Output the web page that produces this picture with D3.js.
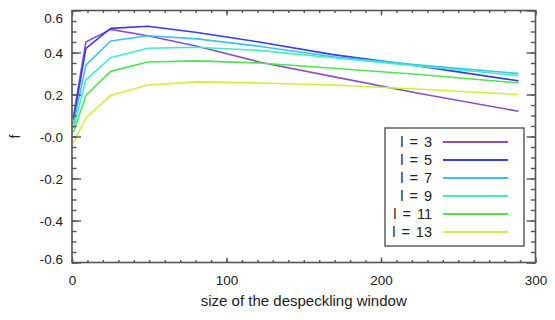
<!DOCTYPE html>
<html>
<head>
<meta charset="utf-8">
<script src="https://cdn.jsdelivr.net/npm/d3@7"></script>
<style>
  body { margin: 0; background: #fff; }
  text { font-family: "Liberation Sans", Arial, Helvetica, sans-serif; fill: #222; }
</style>
</head>
<body>
<svg id="chart"></svg>
<script>
// window sizes (odd squares) and the f values
const windowSizes = [1, 9, 25, 49, 81, 121, 169, 225, 289];
const l3  = [0.10, 0.45, 0.51, 0.48, 0.43, 0.355, 0.285, 0.205, 0.12];
const l5  = [0.08, 0.42, 0.515, 0.525, 0.495, 0.45, 0.39, 0.335, 0.265];
const l7  = [0.06, 0.34, 0.455, 0.48, 0.465, 0.43, 0.38, 0.34, 0.30];
const l9  = [0.04, 0.27, 0.375, 0.42, 0.425, 0.41, 0.375, 0.335, 0.29];
const l11 = [0.02, 0.195, 0.31, 0.355, 0.36, 0.35, 0.325, 0.295, 0.255];
const l13 = [-0.03, 0.09, 0.195, 0.245, 0.26, 0.255, 0.245, 0.225, 0.20];

const seriesNames = ["l = 3", "l = 5", "l = 7", "l = 9", "l = 11", "l = 13"];
const seriesValues = [l3, l5, l7, l9, l11, l13];
const seriesColors = ["#8a4fc8", "#3a3aee", "#3cc0f4", "#3cefc4", "#4ce64c", "#cdf03c"];

const xTicks = [0, 100, 200, 300];
const yTicks = [-0.6, -0.4, -0.2, 0, 0.2, 0.4, 0.6];
const yTickLabels = ["-0.6", "-0.4", "-0.2", "-0.0", "0.2", "0.4", "0.6"];

const width = 555, height = 320;
const margin = { top: 10.5, right: 19.5, bottom: 57.5, left: 72 };
const plotW = width - margin.left - margin.right;
const plotH = height - margin.top - margin.bottom;

const svg = d3.select("#chart").attr("width", width).attr("height", height);
const g = svg.append("g").attr("transform", `translate(${margin.left},${margin.top})`);

const x = d3.scaleLinear().domain([0, 300]).range([0, plotW]);
const y = d3.scaleLinear().domain([-0.6, 0.6]).range([plotH, 0]);

const axisColor = "#555";

// lines
const line = d3.line()
  .x((d, i) => x(windowSizes[i]))
  .y(d => y(d));

g.selectAll("path.series")
  .data(seriesValues)
  .join("path")
  .attr("class", "series")
  .attr("fill", "none")
  .attr("stroke", (d, i) => seriesColors[i])
  .attr("stroke-width", 1.6)
  .attr("stroke-linejoin", "round")
  .attr("d", line);

// axes: major + minor ticks pointing inward on all four sides
function styleAxis(sel) {
  sel.select(".domain").remove();
  sel.selectAll(".tick line").attr("stroke", axisColor).attr("stroke-width", 1.4);
  sel.selectAll("text").attr("font-size", 13.5).attr("fill", "#222");
}

const xMinor = d3.range(0, 301, 10);
const yMinor = d3.range(-0.6, 0.6001, 0.05);

g.append("g").attr("transform", `translate(0,${plotH})`)
  .call(d3.axisBottom(x).tickValues(xMinor).tickSize(-2.5).tickFormat(""))
  .call(styleAxis);
g.append("g").attr("transform", `translate(0,${plotH})`)
  .call(d3.axisBottom(x).tickValues(xTicks).tickSize(-5).tickPadding(13).tickFormat(d3.format("d")))
  .call(styleAxis);
g.append("g")
  .call(d3.axisTop(x).tickValues(xMinor).tickSize(-2.5).tickFormat(""))
  .call(styleAxis);
g.append("g")
  .call(d3.axisTop(x).tickValues(xTicks).tickSize(-5).tickFormat(""))
  .call(styleAxis);

g.append("g")
  .call(d3.axisLeft(y).tickValues(yMinor).tickSize(-4.5).tickFormat(""))
  .call(styleAxis);
g.append("g")
  .call(d3.axisLeft(y).tickValues(yTicks).tickSize(-9).tickPadding(9)
    .tickFormat(d => yTickLabels[yTicks.indexOf(d)]))
  .call(styleAxis)
  .call(a => a.selectAll(".tick text").attr("dy", d => d === 0.6 ? "0.9em" : d === -0.6 ? "0.1em" : "0.4em"));
g.append("g").attr("transform", `translate(${plotW},0)`)
  .call(d3.axisRight(y).tickValues(yMinor).tickSize(-4.5).tickFormat(""))
  .call(styleAxis);
g.append("g").attr("transform", `translate(${plotW},0)`)
  .call(d3.axisRight(y).tickValues(yTicks).tickSize(-9).tickFormat(""))
  .call(styleAxis);

// frame
g.append("rect")
  .attr("width", plotW).attr("height", plotH)
  .attr("fill", "none").attr("stroke", axisColor).attr("stroke-width", 1.6);

// axis titles
svg.append("text")
  .attr("x", margin.left + plotW / 2)
  .attr("y", 306)
  .attr("text-anchor", "middle")
  .attr("font-size", 15)
  .text("size of the despeckling window");

svg.append("text")
  .attr("transform", `translate(20,${margin.top + y(0)}) rotate(-90)`)
  .attr("text-anchor", "middle")
  .attr("font-size", 14)
  .text("f");

// legend
const legend = svg.append("g").attr("transform", "translate(385,128)");
legend.append("rect")
  .attr("width", 139).attr("height", 118)
  .attr("fill", "#fff").attr("stroke", axisColor).attr("stroke-width", 1.4);

const entries = legend.selectAll("g.entry")
  .data(seriesNames)
  .join("g")
  .attr("class", "entry")
  .attr("transform", (d, i) => `translate(0,${14 + i * 18})`);

entries.append("text")
  .attr("x", 47)
  .attr("dy", "0.36em")
  .attr("text-anchor", "end")
  .attr("font-size", 14.5)
  .attr("word-spacing", 2)
  .text(d => d);

entries.append("line")
  .attr("x1", 58).attr("x2", 123)
  .attr("stroke", (d, i) => seriesColors[i])
  .attr("stroke-width", 1.8);
</script>
</body>
</html>
